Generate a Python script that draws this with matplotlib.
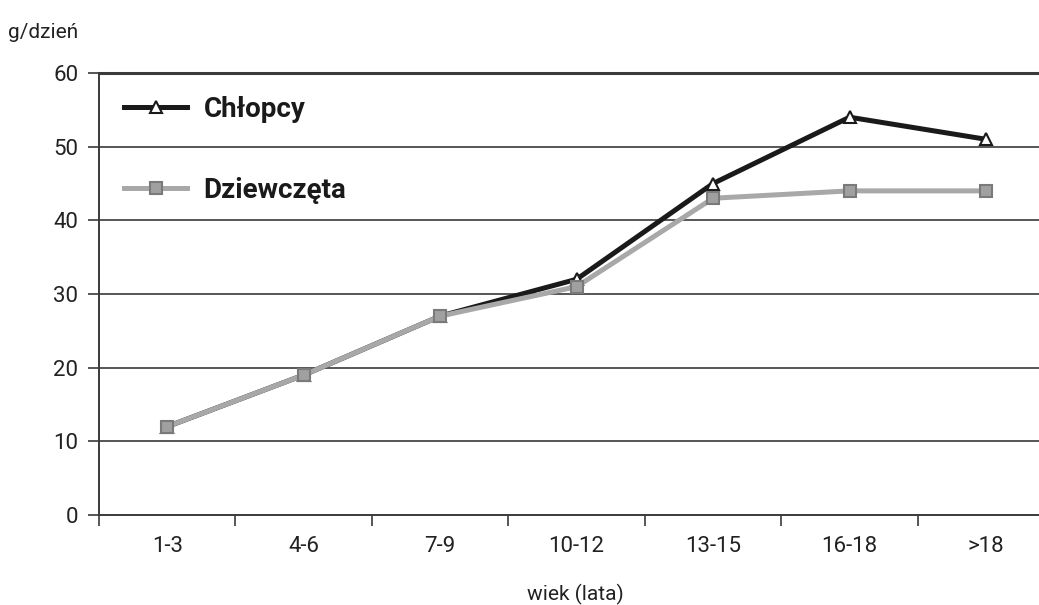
import matplotlib
matplotlib.use("Agg")
import matplotlib.pyplot as plt
from matplotlib import font_manager as fm
import numpy as np

categories = ["1-3", "4-6", "7-9", "10-12", "13-15", "16-18", ">18"]
chlopcy = [12, 19, 27, 32, 45, 54, 51]
dziewczeta = [12, 19, 27, 31, 43, 44, 44]
yticks = [0, 10, 20, 30, 40, 50, 60]

names = {f.name for f in fm.fontManager.ttflist}
fam = "Liberation Sans Narrow" if "Liberation Sans Narrow" in names else "Roboto"
plt.rcParams['font.family'] = [fam, 'DejaVu Sans']

fig = plt.figure(figsize=(10.39, 6.05), dpi=100)
ax = fig.add_axes([99/1039, 90/605, 1 - 99/1039, 442/605])

x = np.arange(len(categories))
ax.plot(x, chlopcy, color="#1a1a1a", lw=3.6, marker="^", ms=9,
        mfc="white", mec="#1a1a1a", mew=1.5, label="Chłopcy", zorder=3)
ax.plot(x, dziewczeta, color="#a8a8a8", lw=3.6, marker="s", ms=8,
        mfc="#a0a0a0", mec="#7a7a7a", mew=1.5, label="Dziewczęta", zorder=4)

ax.set_xlim(-0.5, (1039 - 167) / 136.5)
ax.set_ylim(0, 60)

for v in yticks[1:]:
    ax.axhline(v, color="#3a3a3a", lw=2.2 if v == 60 else 1.2, zorder=1, clip_on=False)

ax.set_yticks(yticks)
ax.set_yticklabels([str(v) for v in yticks], fontsize=16, color="#222222")
ax.tick_params(axis="y", direction="out", length=8, width=1.2, color="#3a3a3a", pad=7)

ax.set_xticks(np.arange(-0.5, len(categories) - 1, 1.0))
ax.set_xticklabels([])
ax.set_xticks(x, minor=True)
ax.set_xticklabels(categories, minor=True, fontsize=16, color="#222222")
ax.tick_params(axis="x", which="major", direction="out", length=8, width=1.2, color="#3a3a3a")
ax.tick_params(axis="x", which="minor", length=0, pad=15)

for s in ["top", "right"]:
    ax.spines[s].set_visible(False)
for s in ["left", "bottom"]:
    ax.spines[s].set_color("#3a3a3a")
    ax.spines[s].set_linewidth(1.4)

leg = ax.legend(loc="upper left", bbox_to_anchor=(0.0, 1.005), frameon=False,
                prop={"family": [fam, "DejaVu Sans"], "weight": "bold", "size": 20},
                handlelength=2.27, handletextpad=0.6, labelspacing=1.94)
for t in leg.get_texts():
    t.set_color("#1a1a1a")

fig.text(8/1039, 1 - 32/605, "g/dzień", fontsize=15, color="#222222", va="center", ha="left")
fig.text(575/1039, 1 - 594/605, "wiek (lata)", fontsize=15, color="#222222", va="center", ha="center")

fig.savefig("out.png", dpi=100)
